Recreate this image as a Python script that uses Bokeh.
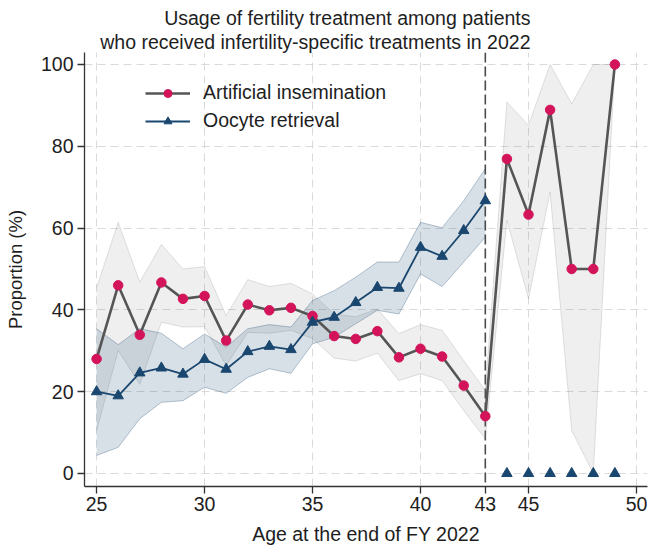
from bokeh.plotting import figure
from bokeh.models import Range1d, FixedTicker, Span, Legend, LegendItem, Title
from bokeh.embed import file_html
from bokeh.resources import INLINE

# Age at the end of FY 2022
ages = [25, 26, 27, 28, 29, 30, 31, 32, 33, 34, 35, 36, 37,
        38, 39, 40, 41, 42, 43, 44, 45, 46, 47, 48, 49]

# Artificial insemination: proportion (%) with 95% CI
ai_pct = [28.0, 46.0, 33.9, 46.7, 42.7, 43.4, 32.5, 41.3, 39.9, 40.5, 38.5, 33.6, 32.9,
          34.8, 28.4, 30.5, 28.6, 21.5, 14.0, 76.9, 63.3, 88.9, 50.0, 50.0, 100.0]
ai_lower = [10.5, 30.1, 21.8, 37.0, 35.8, 35.9, 26.4, 34.5, 34.3, 35.0, 33.0, 28.2, 27.5,
            29.4, 22.7, 24.4, 22.7, 15.4, 8.5, 61.9, 42.7, 68.8, 10.5, 0.0, 100.0]
ai_upper = [45.4, 61.4, 46.8, 56.0, 50.0, 50.6, 38.6, 47.4, 45.7, 46.5, 43.9, 39.0, 38.3,
            40.2, 34.2, 36.4, 35.0, 27.6, 20.3, 90.8, 85.1, 100.0, 90.4, 100.0, 100.0]

# Oocyte retrieval: proportion (%) with 95% CI, ages 25-43
or_ages = [25, 26, 27, 28, 29, 30, 31, 32, 33, 34, 35, 36, 37, 38, 39, 40, 41, 42, 43]
or_pct = [20.0, 19.0, 24.6, 25.8, 24.3, 27.9, 25.5, 29.8, 31.1, 30.3, 37.0, 38.2, 41.8,
          45.5, 45.3, 55.3, 53.1, 59.4, 66.7]
or_lower = [4.4, 6.4, 13.4, 17.4, 17.8, 21.1, 19.6, 23.5, 25.6, 24.5, 31.7, 33.3, 36.6,
            39.9, 39.0, 48.8, 45.7, 51.7, 57.8]
or_upper = [35.4, 31.5, 35.4, 34.3, 30.5, 34.1, 30.9, 35.4, 36.4, 35.8, 42.3, 44.7, 48.0,
            51.7, 51.7, 61.4, 60.1, 66.7, 74.5]

# Oocyte retrieval above age 43 (no patients received it)
or_tail_ages = [44, 45, 46, 47, 48, 49]
or_tail_pct = [0, 0, 0, 0, 0, 0]

x_ticks = [25, 30, 35, 40, 43, 45, 50]
x_grid_ticks = [25, 30, 35, 40, 45, 50]
y_ticks = [0, 20, 40, 60, 80, 100]
cutoff_age = 43

FONT = "Liberation Sans"
AI_LINE = "#555555"
AI_MARK = "#d3145a"
NAVY = "#1a476f"
TEXT = "#1e1e1e"

p = figure(width=654, height=551, output_backend="svg", toolbar_location=None,
           title=None, x_range=Range1d(24.44, 50.51), y_range=Range1d(-3.18, 102.93),
           min_border_left=84, min_border_right=7, min_border_top=52, min_border_bottom=65)
p.outline_line_color = None
p.background_fill_color = "white"
p.border_fill_color = "white"

# Grid
p.xgrid.ticker = FixedTicker(ticks=x_grid_ticks)
p.ygrid.ticker = FixedTicker(ticks=y_ticks)
for g in (p.xgrid, p.ygrid):
    g.grid_line_color = "#dadada"
    g.grid_line_dash = "8 5"
    g.grid_line_width = 1

# Axes
p.xaxis.ticker = FixedTicker(ticks=x_ticks)
p.yaxis.ticker = FixedTicker(ticks=y_ticks)
p.xaxis.axis_label = "Age at the end of FY 2022"
p.yaxis.axis_label = "Proportion (%)"
for ax in (p.xaxis, p.yaxis):
    ax.axis_line_color = "#333333"
    ax.axis_line_width = 1.3
    ax.major_tick_line_color = "#333333"
    ax.major_tick_line_width = 1.3
    ax.major_tick_in = 0
    ax.major_tick_out = 7
    ax.minor_tick_line_color = None
    ax.major_label_text_font = FONT
    ax.major_label_text_font_size = "19.5px"
    ax.major_label_text_color = TEXT
    ax.axis_label_text_font = FONT
    ax.axis_label_text_font_style = "normal"
    ax.axis_label_text_color = TEXT
p.xaxis.major_label_standoff = 3
p.xaxis.axis_label_standoff = 9
p.xaxis.axis_label_text_font_size = "19.5px"
p.yaxis.major_label_standoff = 4
p.yaxis.axis_label_standoff = 12
p.yaxis.axis_label_text_font_size = "18.5px"

# Cut-off age
p.add_layout(Span(location=cutoff_age, dimension="height", line_color="#4a4a4a",
                  line_width=1.6, line_dash="10 4", level="underlay"))

# Confidence bands
p.varea(x=ages, y1=ai_lower, y2=ai_upper, fill_color="#808080", fill_alpha=0.13)
p.line(ages, ai_upper, line_color="#808080", line_alpha=0.22, line_width=1)
p.line(ages, ai_lower, line_color="#808080", line_alpha=0.22, line_width=1)

p.varea(x=or_ages, y1=or_lower, y2=or_upper, fill_color=NAVY, fill_alpha=0.17)
p.line(or_ages, or_upper, line_color=NAVY, line_alpha=0.3, line_width=1)
p.line(or_ages, or_lower, line_color=NAVY, line_alpha=0.3, line_width=1)

# Point estimates
ai_line = p.line(ages, ai_pct, line_color=AI_LINE, line_width=2.6)
ai_pts = p.scatter(ages, ai_pct, marker="circle", size=9.5, fill_color=AI_MARK,
                   line_color=AI_MARK)

or_line = p.line(or_ages, or_pct, line_color=NAVY, line_width=1.8)
or_pts = p.scatter(or_ages, or_pct, marker="triangle", size=10.5, fill_color=NAVY,
                   line_color=NAVY)
p.scatter(or_tail_ages, or_tail_pct, marker="triangle", size=10.5, fill_color=NAVY,
          line_color=NAVY)

legend = Legend(items=[
    LegendItem(label="Artificial insemination", renderers=[ai_line, ai_pts]),
    LegendItem(label="Oocyte retrieval", renderers=[or_line, or_pts]),
], location=(61, 354))
legend.padding = 0
legend.margin = 0
legend.spacing = 5
legend.glyph_width = 45
legend.glyph_height = 20
legend.label_height = 20
legend.label_standoff = 13
legend.label_text_font = FONT
legend.label_text_font_size = "19.5px"
legend.label_text_color = TEXT
legend.background_fill_alpha = 0
legend.border_line_alpha = 0
p.add_layout(legend)

# Two-line title, right-aligned
for line in ["who received infertility-specific treatments in 2022",
             "Usage of fertility treatment among patients"]:
    p.add_layout(Title(text=line, align="right", offset=117, standoff=0,
                       text_font=FONT, text_font_size="19.5px",
                       text_font_style="normal", text_color=TEXT), "above")

open("out.html", "w").write(file_html(p, INLINE))
